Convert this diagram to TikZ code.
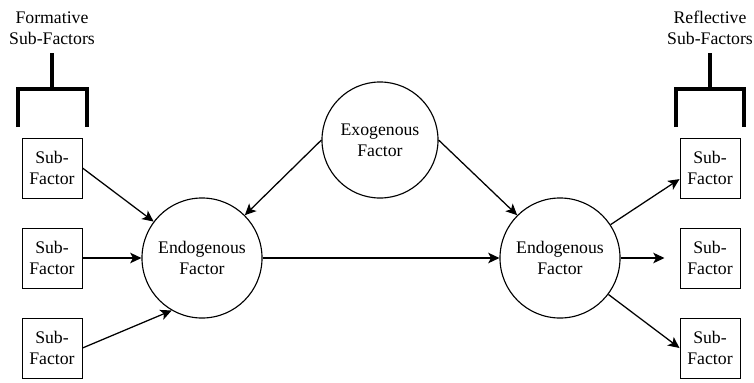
\documentclass[tikz,border=0pt]{standalone}
\usepackage{fontspec}
\setmainfont{Liberation Serif}
\usetikzlibrary{arrows.meta}
\begin{document}
\begin{tikzpicture}[x=0.025cm, y=-0.025cm,
  every node/.style={font=\fontsize{12.6}{15}\selectfont, align=center},
  factor/.style={draw, circle, line width=0.8pt, inner sep=0pt},
  subbox/.style={draw, rectangle, line width=0.7pt, minimum size=1.5cm, inner sep=0pt},
  effect/.style={line width=0.9pt, -{Stealth[length=8pt, width=7.5pt, inset=2pt]}},
  bracket/.style={line width=2.2pt, line join=miter}]
\useasboundingbox (0,0) rectangle (754,382);

\coordinate (LT) at (52,53);
\coordinate (LB) at (52,89);
\coordinate (RT) at (710,53);
\coordinate (RB) at (710,89);

\node[factor, minimum size=2.9cm] (exo) at (380,140) {Exogenous\\Factor};
\node[factor, minimum size=3cm] (lendo) at (202,258) {Endogenous\\Factor};
\node[factor, minimum size=3cm] (rendo) at (560,258) {Endogenous\\Factor};

\foreach \i/\y in {1/168, 2/258, 3/348} {
  \node[subbox] (lsub\i) at (52,\y) {Sub-\\Factor};
  \node[subbox] (rsub\i) at (710,\y) {Sub-\\Factor};
}

\node (form) at (52,28) {Formative\\Sub-Factors};
\node (refl) at (710,28) {Reflective\\Sub-Factors};

% brackets over the sub-factors
\draw[bracket] (LT) -- (LB);
\draw[bracket] (18,127) -- (18,89) -- (87,89) -- (87,127);
\draw[bracket] (RT) -- (RB);
\draw[bracket] (676,127) -- (676,89) -- (744,89) -- (744,127);

\draw[effect] (lsub1.east) -- (lendo);
\draw[effect] (lsub2) -- (lendo);
\draw[effect] (lsub3.east) -- (lendo.240);
\draw[effect] (exo.west) -- (lendo.north east);
\draw[effect] (exo.east) -- (rendo.north west);
\draw[effect] (lendo) -- (rendo);
\draw[effect] (rendo) -- (rsub1.200);
\draw[effect, shorten >=0.375cm] (rendo) -- (rsub2);
\draw[effect] (rendo) -- (rsub3.west);
\end{tikzpicture}
\end{document}
